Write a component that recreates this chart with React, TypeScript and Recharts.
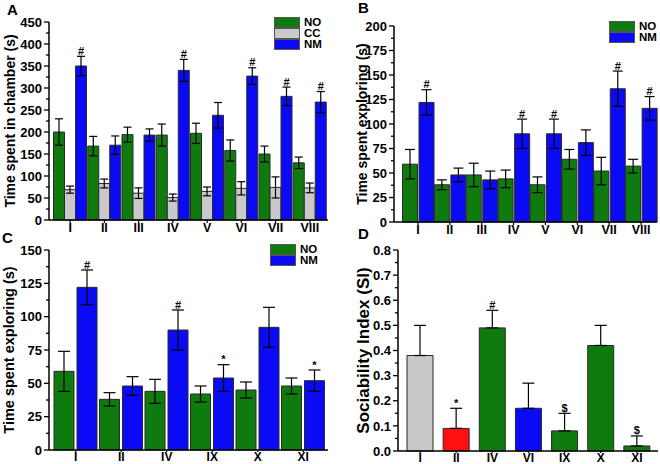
import React from "react";
import {
  BarChart,
  Bar,
  XAxis,
  YAxis,
  ErrorBar,
  LabelList,
  Legend,
  Cell,
} from "recharts";

const FONT = "'Liberation Sans', Arial, sans-serif";
const GREEN = "#0f7b0f";
const BLUE = "#0a0af5";
const GRAY = "#c9c9c9";
const RED = "#ff1010";
const EDGE = "#2a2a2a";

// Panel A - time spent in chamber
const groupsA = ["I", "II", "III", "IV", "V", "VI", "VII", "VIII"];
const noA = [200, 168, 194, 193, 197, 158, 150, 130];
const noErrA = [30, 22, 17, 25, 23, 24, 18, 13];
const ccA = [69, 83, 61, 51, 65, 72, 74, 73];
const ccErrA = [8, 10, 12, 8, 10, 15, 24, 11];
const nmA = [350, 170, 193, 340, 238, 327, 281, 268];
const nmErrA = [22, 21, 14, 25, 29, 19, 21, 24];
const nmMarkA = ["#", "", "", "#", "", "#", "#", "#"];
const ticksA = [0, 25, 50, 75, 100, 125, 150, 175, 200, 225, 250, 275, 300, 325, 350, 375, 400, 425, 450];
const legendA = ["NO", "CC", "NM"];

// Panel B - time spent exploring
const groupsB = ["I", "II", "III", "IV", "V", "VI", "VII", "VIII"];
const noB = [59, 38, 48, 44, 38, 64, 52, 57];
const noErrB = [15, 5, 12, 9, 8, 10, 14, 7];
const nmB = [122, 48, 43, 90, 90, 81, 136, 116];
const nmErrB = [13, 7, 9, 15, 15, 13, 18, 12];
const nmMarkB = ["#", "", "", "#", "#", "", "#", "#"];
const ticksB = [0, 12.5, 25, 37.5, 50, 62.5, 75, 87.5, 100, 112.5, 125, 137.5, 150, 162.5, 175, 187.5, 200];
const legendB = ["NO", "NM"];

// Panel C - time spent exploring, selected groups
const groupsC = ["I", "II", "IV", "IX", "X", "XI"];
const noC = [59, 38, 44, 42, 45, 48];
const noErrC = [15, 5, 9, 6, 6, 6];
const nmC = [122, 48, 90, 54, 92, 52];
const nmErrC = [13, 7, 15, 10, 15, 8];
const nmMarkC = ["#", "", "#", "*", "", "*"];
const ticksC = [0, 12.5, 25, 37.5, 50, 62.5, 75, 87.5, 100, 112.5, 125, 137.5, 150];

// Panel D - sociability index
const groupsD = ["I", "II", "IV", "VI", "IX", "X", "XI"];
const siD = [0.38, 0.09, 0.49, 0.17, 0.08, 0.42, 0.02];
const siErrD = [0.12, 0.08, 0.07, 0.1, 0.07, 0.08, 0.04];
const siMarkD = ["", "*", "#", "", "$", "", "$"];
const siColorD = [GRAY, RED, GREEN, BLUE, GREEN, GREEN, GREEN];
const ticksD = [0, 0.05, 0.1, 0.15, 0.2, 0.25, 0.3, 0.35, 0.4, 0.45, 0.5, 0.55, 0.6, 0.65, 0.7, 0.75, 0.8];

const rowsA = groupsA.map((g, i) => ({
  group: g, no: noA[i], noErr: noErrA[i], cc: ccA[i], ccErr: ccErrA[i],
  nm: nmA[i], nmErr: nmErrA[i], nmMark: nmMarkA[i],
}));
const rowsB = groupsB.map((g, i) => ({
  group: g, no: noB[i], noErr: noErrB[i], nm: nmB[i], nmErr: nmErrB[i], nmMark: nmMarkB[i],
}));
const rowsC = groupsC.map((g, i) => ({
  group: g, no: noC[i], noErr: noErrC[i], nm: nmC[i], nmErr: nmErrC[i], nmMark: nmMarkC[i],
}));
const rowsD = groupsD.map((g, i) => ({
  group: g, si: siD[i], siErr: [0, siErrD[i]], siMark: siMarkD[i],
}));

function YTick(props: any) {
  const { x, y, payload, step, digits } = props;
  const v = payload.value;
  const major = Math.abs(v / step - Math.round(v / step)) < 1e-6;
  return (
    <g>
      <line x1={x - (major ? 5 : 3)} x2={x} y1={y} y2={y} stroke="#000" strokeWidth={1.3} />
      {major && (
        <text x={x - 7} y={y} dy="0.36em" textAnchor="end" fontSize={13} fontWeight={700}
          fill="#000" fontFamily={FONT}>
          {v.toFixed(digits)}
        </text>
      )}
    </g>
  );
}

function AxisTitle(props: any) {
  const { viewBox, text, tx, size } = props;
  const cy = viewBox ? viewBox.y + viewBox.height / 2 : 120;
  return (
    <text x={tx} y={cy} transform={`rotate(-90 ${tx} ${cy})`} textAnchor="middle"
      fontSize={size} fontWeight={700} fill="#000" fontFamily={FONT}>
      {text}
    </text>
  );
}

const markLabel = (marks: string[], vals: number[], errs: number[]) => (props: any) => {
  const { x, y, width, height, index } = props;
  const mark = marks[index];
  if (!mark) return null;
  const errPx = (height / vals[index]) * errs[index];
  return (
    <text x={x + width / 2} y={y - errPx - 1.5} textAnchor="middle" fontSize={11}
      fontWeight={700} fill="#000" fontFamily={FONT}>
      {mark}
    </text>
  );
};

const legendBox = (order: string[]) => (props: any) => {
  const payload = props.payload || [];
  return (
    <div>
      {order.map((name) => {
        const p = payload.find((q: any) => q.value === name);
        return (
          <div key={name} style={{ display: "flex", alignItems: "center", height: 11 }}>
            <span style={{ width: 24, height: 9.5, background: p ? p.color : "#fff", border: "1px solid #555" }} />
            <span style={{ marginLeft: 4, fontSize: 11.5, fontWeight: 700, fontFamily: FONT, color: "#000", lineHeight: 1 }}>
              {name}
            </span>
          </div>
        );
      })}
    </div>
  );
};

const xTick = { fontSize: 12.5, fontWeight: 700, fill: "#000", fontFamily: FONT };
const xTickLow = { fontSize: 12, fontWeight: 700, fill: "#000", fontFamily: FONT };
const axisLine = { stroke: "#000", strokeWidth: 1.5 };
const tickLine = { stroke: "#000", strokeWidth: 1.2 };

function Letter({ text, left, top }: { text: string; left: number; top: number }) {
  return (
    <div style={{ position: "absolute", left, top, fontSize: 15, fontWeight: 700, fontFamily: FONT, lineHeight: 1 }}>
      {text}
    </div>
  );
}

export default function App() {
  return (
    <div style={{ position: "fixed", left: 0, top: 0, width: 660, height: 464, background: "#fff", overflow: "hidden" }}>
      {/* A */}
      <div style={{ position: "absolute", left: 0, top: 0 }}>
        <BarChart width={330} height={240} data={rowsA} margin={{ top: 22, right: 2, bottom: 0, left: 0 }}
          barCategoryGap={0.5} barGap={0}>
          <XAxis dataKey="group" interval={0} height={20} tick={xTick} tickSize={3} tickMargin={0}
            axisLine={axisLine} tickLine={tickLine} padding={{ left: 4, right: 1 }} />
          <YAxis width={49} domain={[0, 450]} ticks={ticksA} interval={0} tickSize={0} tickMargin={0}
            tickLine={false} axisLine={axisLine} tick={<YTick step={50} digits={0} />}
            label={<AxisTitle text="Time spent in chamber (s)" tx={14.5} size={14} />} />
          <Legend layout="vertical" align="center" verticalAlign="middle" content={legendBox(legendA)}
            wrapperStyle={{ left: 274, top: 17, width: 56, height: 33 }} />
          <Bar dataKey="no" name="NO" fill={GREEN} stroke={EDGE} strokeWidth={1} isAnimationActive={false}>
            <ErrorBar dataKey="noErr" width={4} stroke="#000" strokeWidth={1.2} />
          </Bar>
          <Bar dataKey="cc" name="CC" fill={GRAY} stroke={EDGE} strokeWidth={1} isAnimationActive={false}>
            <ErrorBar dataKey="ccErr" width={4} stroke="#000" strokeWidth={1.2} />
          </Bar>
          <Bar dataKey="nm" name="NM" fill={BLUE} stroke={EDGE} strokeWidth={1} isAnimationActive={false}>
            <ErrorBar dataKey="nmErr" width={4} stroke="#000" strokeWidth={1.2} />
            <LabelList dataKey="nmMark" content={markLabel(nmMarkA, nmA, nmErrA)} />
          </Bar>
        </BarChart>
      </div>

      {/* B */}
      <div style={{ position: "absolute", left: 330, top: 0 }}>
        <BarChart width={330} height={240} data={rowsB} margin={{ top: 26, right: 3, bottom: 0, left: 0 }}
          barCategoryGap={0.5} barGap={1.5}>
          <XAxis dataKey="group" interval={0} height={18} tick={xTick} tickSize={3} tickMargin={0}
            axisLine={axisLine} tickLine={tickLine} padding={{ left: 8, right: 0 }} />
          <YAxis width={64} domain={[0, 200]} ticks={ticksB} interval={0} tickSize={0} tickMargin={0}
            tickLine={false} axisLine={axisLine} tick={<YTick step={25} digits={0} />}
            label={<AxisTitle text="Time spent exploring (s)" tx={37} size={14} />} />
          <Legend layout="vertical" align="center" verticalAlign="middle" content={legendBox(legendB)}
            wrapperStyle={{ left: 279, top: 21, width: 50, height: 22 }} />
          <Bar dataKey="no" name="NO" fill={GREEN} stroke={EDGE} strokeWidth={1} isAnimationActive={false}>
            <ErrorBar dataKey="noErr" width={5} stroke="#000" strokeWidth={1.2} />
          </Bar>
          <Bar dataKey="nm" name="NM" fill={BLUE} stroke={EDGE} strokeWidth={1} isAnimationActive={false}>
            <ErrorBar dataKey="nmErr" width={5} stroke="#000" strokeWidth={1.2} />
            <LabelList dataKey="nmMark" content={markLabel(nmMarkB, nmB, nmErrB)} />
          </Bar>
        </BarChart>
      </div>

      {/* C */}
      <div style={{ position: "absolute", left: 0, top: 232 }}>
        <BarChart width={330} height={240} data={rowsC} margin={{ top: 18, right: 2, bottom: 0, left: 0 }}
          barCategoryGap={1} barGap={3}>
          <XAxis dataKey="group" interval={0} height={22} tick={xTickLow} tickSize={2} tickMargin={0}
            axisLine={axisLine} tickLine={tickLine} padding={{ left: 4, right: 2 }} />
          <YAxis width={49} domain={[0, 150]} ticks={ticksC} interval={0} tickSize={0} tickMargin={0}
            tickLine={false} axisLine={axisLine} tick={<YTick step={25} digits={0} />}
            label={<AxisTitle text="Time spent exploring (s)" tx={14} size={14.5} />} />
          <Legend layout="vertical" align="center" verticalAlign="middle" content={legendBox(legendB)}
            wrapperStyle={{ left: 270, top: 12, width: 56, height: 22 }} />
          <Bar dataKey="no" name="NO" fill={GREEN} stroke={EDGE} strokeWidth={1} isAnimationActive={false}>
            <ErrorBar dataKey="noErr" width={6} stroke="#000" strokeWidth={1.2} />
          </Bar>
          <Bar dataKey="nm" name="NM" fill={BLUE} stroke={EDGE} strokeWidth={1} isAnimationActive={false}>
            <ErrorBar dataKey="nmErr" width={6} stroke="#000" strokeWidth={1.2} />
            <LabelList dataKey="nmMark" content={markLabel(nmMarkC, nmC, nmErrC)} />
          </Bar>
        </BarChart>
      </div>

      {/* D */}
      <div style={{ position: "absolute", left: 330, top: 232 }}>
        <BarChart width={330} height={240} data={rowsD} margin={{ top: 18, right: 2, bottom: 0, left: 0 }}
          barSize={26}>
          <XAxis dataKey="group" interval={0} height={21} tick={xTickLow} tickSize={2} tickMargin={0}
            axisLine={axisLine} tickLine={tickLine} padding={{ left: 4, right: 3 }} />
          <YAxis width={68} domain={[0, 0.8]} ticks={ticksD} interval={0} tickSize={0} tickMargin={0}
            tickLine={false} axisLine={axisLine} tick={<YTick step={0.1} digits={1} />}
            label={<AxisTitle text="Sociability Index (SI)" tx={38.5} size={17} />} />
          <Bar dataKey="si" fill={GREEN} stroke={EDGE} strokeWidth={1} isAnimationActive={false}>
            {siColorD.map((c, i) => (
              <Cell key={i} fill={c} />
            ))}
            <ErrorBar dataKey="siErr" width={6} stroke="#000" strokeWidth={1.2} />
            <LabelList dataKey="siMark" content={markLabel(siMarkD, siD, siErrD)} />
          </Bar>
        </BarChart>
      </div>

      <Letter text="A" left={7} top={2} />
      <Letter text="B" left={358} top={0} />
      <Letter text="C" left={2} top={230} />
      <Letter text="D" left={358} top={226} />
    </div>
  );
}
